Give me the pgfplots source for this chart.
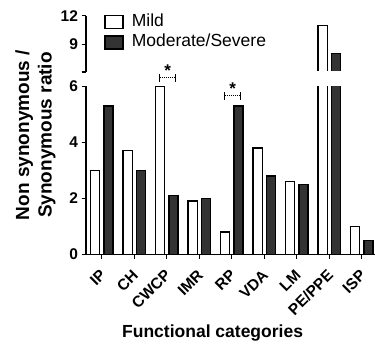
\documentclass[border=0pt]{standalone}
\usepackage{pgfplots}
\pgfplotsset{compat=1.18}
\usepackage{pgfplotstable}
\usepackage{fontspec}
\setmainfont{Liberation Sans}
\definecolor{darkbar}{HTML}{333333}

\pgfplotstableread{
x mild mod
0 3.0 5.3
1 3.7 3.0
2 6.0 2.1
3 1.9 2.0
4 0.8 5.3
5 3.8 2.8
6 2.6 2.5
7 11.0 8.05
8 1.0 0.5
}\datatable

\pgfplotsset{
  brk/.style={
    scale only axis, width=289bp, xmin=-0.483, xmax=8.409,
    axis y line*=left, clip mode=individual,
    ybar, bar width=9.2bp,
    tick align=outside, major tick length=4.5bp,
    every tick/.style={black, line width=1.2bp},
    axis line style={line width=1.2bp, black},
    yticklabel style={font=\fontsize{15.5bp}{18bp}\selectfont\bfseries},
    /pgf/number format/assume math mode=true,
  },
  mildbar/.style={draw=black, fill=white, line width=1.3bp, bar shift=-6.6bp},
  modbar/.style={draw=black, fill=darkbar, line width=1.3bp, bar shift=6.8bp},
}

\newcommand\sigbr[2]{%
  \draw[line width=1.1bp] ([xshift=-7bp,yshift=-4bp]axis cs:#1,#2) -- ([xshift=-7bp,yshift=4bp]axis cs:#1,#2);
  \draw[line width=1.1bp] ([xshift=9bp,yshift=-4bp]axis cs:#1,#2) -- ([xshift=9bp,yshift=4bp]axis cs:#1,#2);
  \draw[line width=1.1bp, densely dotted] ([xshift=-7bp]axis cs:#1,#2) -- ([xshift=9bp]axis cs:#1,#2);
  \node[anchor=base, font=\fontsize{17bp}{20bp}\selectfont\bfseries, inner sep=0pt] at ([xshift=1bp, yshift=1bp]axis cs:#1,#2) {*};
}

\begin{document}
\begin{tikzpicture}
\path[use as bounding box] (0,0) rectangle (375bp,345bp);
\begin{axis}[brk, at={(86bp,90.7bp)}, anchor=south west, height=168bp,
  ymin=0, ymax=6, ytick={0,2,4,6},
  axis x line*=bottom,
  xtick={0,...,8},
  xticklabels={IP,CH,CWCP,IMR,RP,VDA,LM,PE/PPE,ISP},
  xticklabel style={xshift=2bp, yshift=-13bp, rotate=45, anchor=east, font=\fontsize{15.5bp}{17bp}\selectfont\bfseries, inner sep=1bp},
  xlabel={Functional categories},
  xlabel style={at={(rel axis cs:0.438,-0.498)}, anchor=base, font=\fontsize{17.5bp}{20bp}\selectfont\bfseries},
  ylabel={Non synonymous /\\Synonymous ratio},
  ylabel style={at={(rel axis cs:-0.175,0.71)}, anchor=center, align=center, inner sep=0pt, font=\fontsize{19bp}{22.5bp}\selectfont\bfseries},
]
\addplot[mildbar] table[x=x, y=mild] {\datatable};
\addplot[modbar] table[x=x, y=mod] {\datatable};
\sigbr{2}{6.307}
\sigbr{4}{5.664}
\end{axis}
\begin{axis}[brk, at={(86bp,273bp)}, anchor=south west, height=56.3bp,
  ymin=6.1, ymax=12, ytick={6.1,9,12}, yticklabels={,9,12},
  axis x line=none,
  legend style={at={(rel axis cs:0.0633,1.075)}, anchor=north west, draw=none, fill=none, inner sep=0pt,
    font=\fontsize{17.5bp}{20bp}\selectfont, row sep=0pt,
    nodes={text height=12.5bp, text depth=4bp, inner sep=2bp},
    /tikz/every odd column/.append style={column sep=6bp}},
  legend cell align=left,
  legend image code/.code={\draw[#1] (0bp,-6.5bp) rectangle (18bp,6.5bp);},
]
\addplot[mildbar, restrict y to domain=6.1:100] table[x=x, y=mild] {\datatable};
\addplot[modbar, restrict y to domain=6.1:100] table[x=x, y=mod] {\datatable};
\fill[white] ([xshift=0.8bp,yshift=-1bp]rel axis cs:0,0) rectangle ([yshift=1.3bp]rel axis cs:1,0);
\legend{Mild, Moderate/Severe}
\end{axis}
\end{tikzpicture}
\end{document}
